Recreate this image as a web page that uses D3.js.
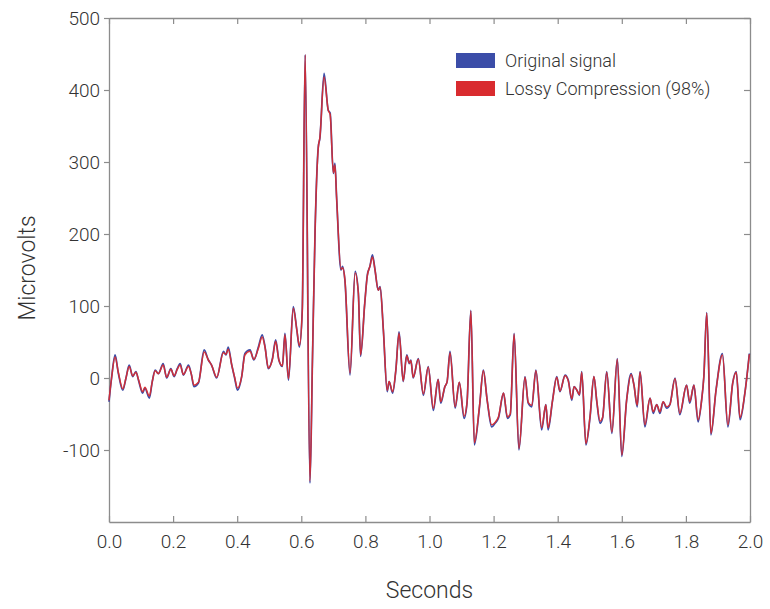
<!DOCTYPE html>
<html>
<head>
<meta charset="utf-8">
<script src="https://cdn.jsdelivr.net/npm/d3@7"></script>
<style>
body{margin:0;background:#fff}
svg text{font-family:Roboto,"Liberation Sans",sans-serif;font-weight:300;fill:#333}
</style>
</head>
<body>
<div id="chart"></div>
<script>
// time axis (s)
const seconds = [0,0.008,0.019,0.029,0.043,0.053,0.063,0.074,0.084,0.092,
  0.105,0.112,0.126,0.135,0.144,0.154,0.169,0.18,0.193,0.203,
  0.213,0.222,0.232,0.248,0.257,0.265,0.279,0.297,0.31,0.32,
  0.336,0.357,0.365,0.372,0.383,0.392,0.401,0.414,0.424,0.44,
  0.452,0.466,0.478,0.487,0.497,0.51,0.52,0.53,0.541,0.549,
  0.56,0.575,0.586,0.594,0.603,0.612,0.627,0.635,0.643,0.653,
  0.658,0.671,0.684,0.69,0.7,0.705,0.71,0.724,0.729,0.736,
  0.752,0.768,0.778,0.785,0.798,0.806,0.814,0.822,0.83,0.84,
  0.846,0.856,0.868,0.874,0.885,0.895,0.905,0.918,0.929,0.937,
  0.942,0.949,0.965,0.981,0.996,1.012,1.027,1.035,1.048,1.055,
  1.064,1.08,1.093,1.108,1.117,1.129,1.14,1.156,1.168,1.18,
  1.194,1.204,1.215,1.231,1.243,1.252,1.264,1.279,1.298,1.308,
  1.319,1.332,1.35,1.363,1.37,1.384,1.397,1.407,1.423,1.433,
  1.444,1.451,1.46,1.468,1.475,1.488,1.501,1.513,1.522,1.532,
  1.54,1.553,1.569,1.586,1.6,1.615,1.629,1.638,1.648,1.657,
  1.672,1.688,1.698,1.709,1.719,1.729,1.74,1.75,1.766,1.781,
  1.802,1.812,1.825,1.838,1.849,1.856,1.865,1.878,1.894,1.914,
  1.931,1.946,1.957,1.969,1.984,1.998]

// microvolts, original signal
const original = [-33,0,32,7,-17,0,18,2,9,-3,
  -21,-14,-28,-5,11,6,20,0,13,2,
  13,20,4,18,5,-12,-7,39,25,18,
  0,37,32,43,18,0,-17,2,34,39,
  25,43,60,43,13,27,53,25,16,62,
  -3,99,67,43,94,449,-146,30,205,321,
  333,423,372,368,284,298,252,150,155,136,
  4,148,118,30,104,143,155,171,150,122,
  127,67,-19,-5,-21,11,64,-5,32,20,
  25,0,27,-24,16,-45,-2,-35,-12,-5,
  37,-42,-6,-56,-35,94,-93,-40,11,-31,
  -68,-63,-56,-21,-56,-51,62,-100,2,-35,
  -40,11,-72,-37,-72,-31,2,-19,4,-3,
  -31,-12,-17,-24,9,-93,-54,2,-33,-63,
  -56,9,-77,27,-109,-31,6,-10,-40,9,
  -68,-28,-49,-37,-49,-33,-42,-37,0,-51,
  -10,-35,-10,-61,-31,2,91,-79,-17,34,
  -68,-7,9,-58,-21,34]

// microvolts, after lossy compression
const lossy = [-31,0,29,8,-15,0,16,3,8,-2,
  -19,-13,-25,-5,10,6,18,1,12,3,
  12,18,5,16,5,-10,-6,36,25,18,
  1,35,33,40,18,1,-14,2,32,37,
  26,41,57,42,14,26,51,25,17,60,
  -1,97,67,45,93,449,-143,30,205,320,
  334,418,372,366,285,296,252,151,153,137,
  7,146,118,32,104,142,155,168,150,122,
  126,67,-17,-5,-19,11,62,-4,31,21,
  24,1,26,-22,15,-42,-2,-33,-12,-5,
  35,-40,-6,-53,-35,93,-90,-39,10,-31,
  -65,-62,-54,-21,-54,-50,61,-98,1,-34,
  -38,10,-69,-37,-69,-31,1,-18,3,-4,
  -29,-12,-17,-23,8,-91,-53,2,-32,-60,
  -55,8,-75,26,-107,-31,5,-10,-38,8,
  -65,-28,-47,-37,-47,-33,-40,-37,-1,-49,
  -10,-33,-10,-58,-31,2,90,-77,-17,32,
  -65,-7,8,-55,-21,33]

const xTicks = [0,0.2,0.4,0.6,0.8,1.0,1.2,1.4,1.6,1.8,2.0]
const yTicks = [-100,0,100,200,300,400,500]
const legendLabels = ["Original signal","Lossy Compression (98%)"]
const colors = ["#3b4da8","#d92b2f"]

const W = 770, H = 609
const margin = {top:18,right:20,bottom:87,left:109}
const w = W - margin.left - margin.right
const h = H - margin.top - margin.bottom

function translate(x,y){return `translate(${x}, ${y})`}

const svg = d3.select("#chart").append("svg").attr("width",W).attr("height",H)
const g = svg.append("g").attr("transform",translate(margin.left,margin.top))

const x = d3.scaleLinear().domain([0,2]).range([0,w])
const y = d3.scaleLinear().domain([-200,500]).range([h,0])

// axes: box with ticks
const axisColor = "#8c8c8c"
function styleAxis(sel){
  sel.select(".domain").attr("stroke",axisColor).attr("stroke-width",1.3)
  sel.selectAll(".tick line").attr("stroke",axisColor).attr("stroke-width",1.2)
  sel.selectAll(".tick text").attr("font-size",19).attr("fill","#333")
}
g.append("g").attr("transform",translate(0,h))
  .call(d3.axisBottom(x).tickValues(xTicks).tickFormat(d=>d.toFixed(1)).tickSizeInner(-6).tickSizeOuter(0).tickPadding(13))
  .call(styleAxis)
g.append("g")
  .call(d3.axisTop(x).tickValues(xTicks).tickFormat("").tickSizeInner(-6).tickSizeOuter(0))
  .call(styleAxis)
g.append("g")
  .call(d3.axisLeft(y).tickValues(yTicks).tickFormat(d=>String(d)).tickSizeInner(5).tickSizeOuter(0).tickPadding(4))
  .call(styleAxis)
g.append("g").attr("transform",translate(w,0))
  .call(d3.axisRight(y).tickValues(yTicks).tickFormat("").tickSizeInner(-6).tickSizeOuter(0))
  .call(styleAxis)
g.selectAll(".tick text").attr("font-family","Roboto, 'Liberation Sans', sans-serif").attr("font-weight",300)

// signal lines
const line = d3.line().x((d,i)=>x(seconds[i])).y(d=>y(d)).curve(d3.curveMonotoneX)
g.append("path").datum(original)
  .attr("fill","none").attr("stroke",colors[0]).attr("stroke-width",1.7)
  .attr("stroke-linejoin","round").attr("d",line)
g.append("path").datum(lossy)
  .attr("fill","none").attr("stroke",colors[1]).attr("stroke-width",1.5).attr("stroke-opacity",0.92)
  .attr("stroke-linejoin","round").attr("d",line)

// legend
const legend = svg.append("g").attr("transform",translate(456,53))
legendLabels.forEach((lab,i)=>{
  legend.append("rect").attr("x",0).attr("y",i*28).attr("width",39).attr("height",15).attr("fill",colors[i])
  legend.append("text").attr("x",49).attr("y",i*28+14).attr("font-size",18).text(lab)
})

// axis titles
svg.append("text").attr("x",margin.left+w/2).attr("y",598)
  .attr("text-anchor","middle").attr("font-size",23).text("Seconds")
svg.append("text").attr("transform","translate(35,"+(margin.top+h/2 - 2)+") rotate(-90)")
  .attr("text-anchor","middle").attr("font-size",23).text("Microvolts")
</script>
</body>
</html>
